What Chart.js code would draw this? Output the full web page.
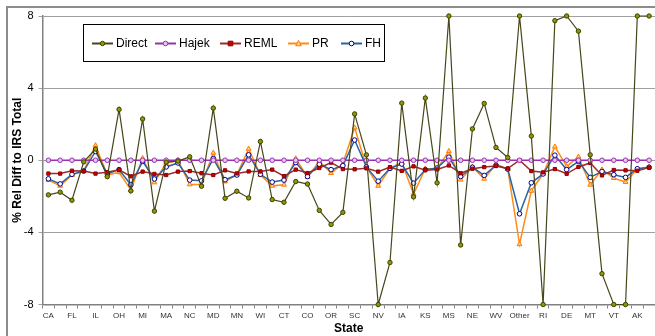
<!DOCTYPE html>
<html>
<head>
<meta charset="utf-8">
<script src="https://cdn.jsdelivr.net/npm/chart.js@4.4.0/dist/chart.umd.min.js"></script>
<style>
  html, body { margin: 0; padding: 0; background: #fff; overflow: hidden; }
  #wrap { width: 660px; height: 336px; }
</style>
</head>
<body>
<div id="wrap"><canvas id="line_chart" width="660" height="336"></canvas></div>
<script>
var states = ['CA','','FL','','IL','','OH','','MI','','MA','','NC','','MD','','MN','','WI','','CT','','CO','','OR','',
              'SC','','NV','','IA','','KS','','MS','','NE','','WV','','Other','','RI','','DE','','MT','','VT','','AK',''];
var yTicks = [-8, -4, 0, 4, 8];

var direct = [-1.92,-1.77,-2.22,-0.09,0.62,-0.91,2.82,-1.70,2.29,-2.82,-0.10,-0.05,0.19,-1.44,2.89,-2.11,-1.72,-2.09,1.04,-2.18,
              -2.33,-1.18,-1.32,-2.78,-3.56,-2.89,2.57,0.30,-8,-5.67,3.17,-2.03,3.45,-1.25,8,-4.70,1.74,3.15,0.71,0.15,
              8,1.34,-8,7.74,8,7.16,0.3,-6.29,-8,-8,8,8];
var hajek = [0,0,0,0,0,0,0,0,0,0,0,0,0,0,0,0,0,0,0,0,0,0,0,0,0,0,
             0,0,0,0,0,0,0,0,0,0,0,0,0,0,0,0,0,0,0,0,0,0,0,0,0,0];
var reml = [-0.74,-0.74,-0.58,-0.60,-0.74,-0.66,-0.53,-0.89,-0.63,-0.76,-0.82,-0.63,-0.60,-0.72,-0.82,-0.56,-0.73,-0.62,-0.62,-0.52,
            -0.88,-0.52,-0.71,-0.43,-0.13,-0.49,-0.50,-0.45,-0.63,-0.38,-0.59,-0.34,-0.55,-0.51,-0.29,-0.72,-0.47,-0.38,-0.32,-0.46,
            0.0,-0.60,-0.67,-0.49,-0.75,-0.37,-0.15,-0.84,-0.54,-0.56,-0.58,-0.41];
var pr = [-1.10,-1.42,-0.82,-0.58,0.82,-0.82,-0.67,-1.64,0.11,-1.23,-0.15,0.0,-1.34,-1.34,0.41,-1.18,-0.80,0.63,-0.82,-1.42,
          -1.36,0.09,-0.93,-0.06,-0.71,-0.20,1.81,-0.37,-1.42,-0.45,-0.11,-1.87,-0.47,-0.47,0.50,-1.08,-0.37,-1.03,-0.22,-0.49,
          -4.66,-1.70,-0.75,0.75,-0.34,0.19,-1.36,-0.52,-0.99,-1.21,-0.49,-0.37];
var fh = [-1.03,-1.31,-0.78,-0.60,0.49,-0.75,-0.52,-1.36,-0.06,-1.04,-0.37,-0.15,-1.10,-1.14,0.09,-1.08,-0.82,0.30,-0.78,-1.21,
          -1.10,-0.13,-0.90,-0.22,-0.52,-0.30,1.12,-0.37,-1.16,-0.45,-0.21,-1.27,-0.52,-0.43,0.17,-0.90,-0.39,-0.84,-0.28,-0.49,
          -2.97,-1.25,-0.76,0.28,-0.52,-0.06,-0.95,-0.62,-0.80,-0.95,-0.47,-0.39];

var font = "'Liberation Sans', Arial, sans-serif";

function series(label, data, line, width, style, fill, edge, r, order) {
    return {
        label: label,
        data: data,
        borderColor: line,
        borderWidth: width,
        pointStyle: style,
        pointRadius: r,
        pointBorderWidth: 1,
        pointBackgroundColor: fill,
        pointBorderColor: edge,
        tension: 0,
        clip: false,
        order: order
    };
}

// outer frame of the chart object
var framePlugin = {
    id: 'frame',
    beforeDraw: function (chart) {
        var ctx = chart.ctx;
        ctx.save();
        ctx.fillStyle = '#fff';
        ctx.fillRect(0, 0, chart.width, chart.height);
        ctx.strokeStyle = '#8c8c8c';
        ctx.lineWidth = 2;
        ctx.strokeRect(7, 7, chart.width + 20, chart.height + 20);
        ctx.restore();
    }
};

function marker(ctx, ds, x, y) {
    var r = ds.pointRadius;
    ctx.fillStyle = ds.pointBackgroundColor;
    ctx.strokeStyle = ds.pointBorderColor;
    ctx.lineWidth = 1;
    ctx.beginPath();
    if (ds.pointStyle === 'rect') {
        ctx.rect(x - r, y - r, 2 * r, 2 * r);
    } else if (ds.pointStyle === 'triangle') {
        ctx.moveTo(x, y - r * 1.1);
        ctx.lineTo(x + r, y + r * 0.8);
        ctx.lineTo(x - r, y + r * 0.8);
        ctx.closePath();
    } else {
        ctx.arc(x, y, r, 0, Math.PI * 2);
    }
    ctx.fill();
    ctx.stroke();
}

var legendPlugin = {
    id: 'boxLegend',
    afterDraw: function (chart) {
        var ctx = chart.ctx;
        var ds = chart.data.datasets;
        var lineStarts = [92, 155, 220, 288, 341];
        var byLabel = {};
        ds.forEach(function (d) { byLabel[d.label] = d; });
        var names = ['Direct', 'Hajek', 'REML', 'PR', 'FH'];
        ctx.save();
        ctx.fillStyle = '#fff';
        ctx.fillRect(83, 24, 302, 38);
        ctx.strokeStyle = '#000';
        ctx.lineWidth = 1;
        ctx.strokeRect(83.5, 24.5, 301, 37);
        var y = 43.5;
        names.forEach(function (n, i) {
            var d = byLabel[n];
            var x0 = lineStarts[i];
            ctx.strokeStyle = d.borderColor;
            ctx.lineWidth = 2;
            ctx.beginPath();
            ctx.moveTo(x0, y);
            ctx.lineTo(x0 + 21, y);
            ctx.stroke();
            marker(ctx, d, x0 + 10.5, y);
            ctx.fillStyle = '#000';
            ctx.font = '12px ' + font;
            ctx.textBaseline = 'middle';
            ctx.textAlign = 'left';
            ctx.fillText(n, x0 + 24, y);
        });
        ctx.restore();
    }
};

new Chart(document.getElementById('line_chart').getContext('2d'), {
    type: 'line',
    data: {
        labels: states,
        datasets: [
            series('Direct', direct, '#46461a', 1.2, 'circle', '#8c9a00', '#3f3f00', 2.2, 1),
            series('Hajek', hajek, '#9a30b0', 1.5, 'circle', '#e6c6f0', '#9a30b0', 2.3, 2),
            series('REML', reml, '#9c2a2a', 1.5, 'rect', '#cc0000', '#8a0000', 2.3, 3),
            series('FH', fh, '#2a64a0', 1.5, 'circle', '#ffffff', '#000090', 2.3, 4),
            series('PR', pr, '#ff8c1a', 1.5, 'triangle', '#ffd080', '#ff7a00', 2.8, 5)
        ]
    },
    options: {
        responsive: false,
        animation: false,
        events: [],
        layout: { padding: { left: 0, top: 16, right: 3, bottom: 0 } },
        plugins: {
            legend: { display: false },
            tooltip: { enabled: false }
        },
        scales: {
            x: {
                offset: true,
                grid: { offset: true, drawOnChartArea: false, drawTicks: true, tickLength: 4, color: '#808080' },
                border: { color: '#808080', width: 1.5 },
                ticks: {
                    autoSkip: false, maxRotation: 0, minRotation: 0, padding: 2,
                    color: '#333', font: { family: font, size: 8 }
                },
                title: { display: true, text: 'State', color: '#000', padding: { top: 0, bottom: 0 },
                         font: { family: font, size: 12, weight: 'bold' } },
                afterFit: function (s) { s.height = 31.5; }
            },
            y: {
                min: -8, max: 8,
                afterBuildTicks: function (s) { s.ticks = yTicks.map(function (v) { return { value: v }; }); },
                grid: { color: '#a0a0a0', lineWidth: 1, tickLength: 4 },
                border: { color: '#808080', width: 1.5 },
                ticks: { color: '#000', padding: 5, font: { family: font, size: 11 } },
                title: { display: true, text: '% Rel Diff to IRS Total', color: '#000', padding: { top: 10, bottom: 0 },
                         font: { family: font, size: 12, weight: 'bold' } },
                afterFit: function (s) { s.width = 42.5; }
            }
        }
    },
    plugins: [framePlugin, legendPlugin]
});
</script>
</body>
</html>
